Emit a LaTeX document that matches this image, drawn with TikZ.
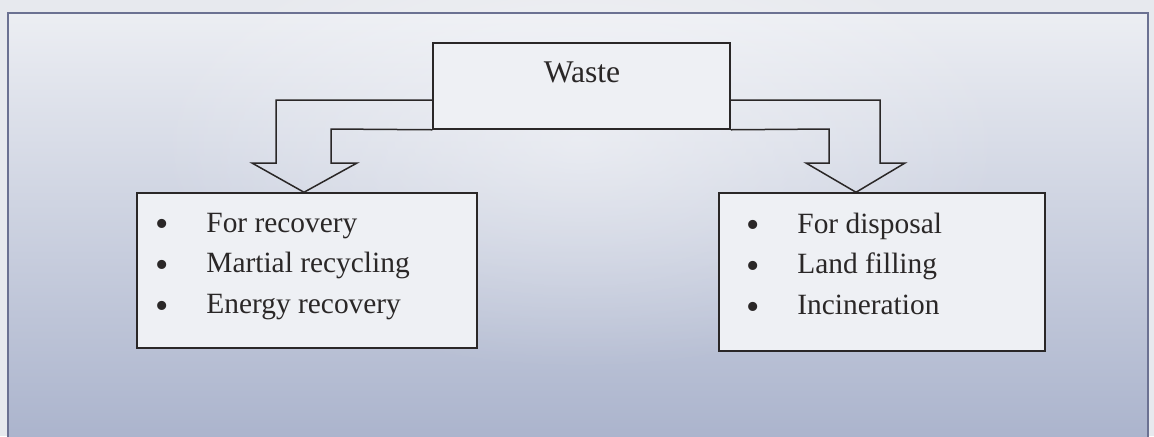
\documentclass[tikz,border=0pt]{standalone}
\usepackage{fontspec}
\setmainfont{Liberation Serif}
\usetikzlibrary{calc,fadings}

\definecolor{paper}{HTML}{E7E9EE}
\definecolor{shadetop}{HTML}{ECEEF3}
\definecolor{shademid}{HTML}{CDD3E2}
\definecolor{shadebot}{HTML}{AAB3CC}
\definecolor{frameline}{HTML}{6B7192}
\definecolor{ink}{HTML}{2A2727}
\definecolor{boxfill}{HTML}{EEF0F4}

\tikzfading[name=softglow, inner color=transparent!0, outer color=transparent!100]

\begin{document}
\begin{tikzpicture}[x=0.5pt,y=-0.5pt,
  box/.style={draw=ink,line width=0.75pt,fill=boxfill,inner sep=0pt},
  blockarrow/.style={draw=ink,line width=0.75pt,line join=miter},
  item/.style={anchor=base west,inner sep=0pt,text=ink,font=\fontsize{14.7}{18}\selectfont},
  bullet/.style={anchor=base,inner sep=0pt,text=ink,font=\fontsize{19}{20}\selectfont},
  title/.style={anchor=base,inner sep=0pt,text=ink,font=\fontsize{15.8}{19}\selectfont}]

\useasboundingbox (0,0) rectangle (1154,436);

% paper and shaded panel
\fill[paper] (0,0) rectangle (1154,436);
\shade[top color=shadetop, middle color=shademid, bottom color=shadebot] (8,13) rectangle (1148,445);
\fill[white, opacity=0.45, path fading=softglow] (580,140) ellipse (430 and 230);
\draw[frameline, line width=0.8pt] (8,13) rectangle (1148,445);

% source box
\node[box, minimum width=148.5pt, minimum height=43pt] (waste) at (581.5,86) {};
\node[title] (wastelabel) at (582,82) {Waste};

% target boxes
\node[box, minimum width=170pt, minimum height=77.5pt] (rec) at (307,270.5) {};
\node[box, minimum width=163pt, minimum height=79pt] (dis) at (882,272) {};

% arrow tips resting on the target boxes
\coordinate (ltip) at ($(rec.north)+(-3,0)$);
\coordinate (rtip) at ($(dis.north)+(-26,0)$);

% bent block arrows
\draw[blockarrow] (waste.west |- 0,100) -- (276,100) -- (276,163) -- (252,163)
  -- (ltip) -- (357,163) -- (331,163) -- (331,129) -- (waste.south west);
\draw[blockarrow] (waste.east |- 0,100) -- (880,100) -- (880,163) -- (905,163)
  -- (rtip) -- (806,163) -- (829,163) -- (829,129) -- (waste.south east);

% recovery list
\node[bullet] (rb1) at (162,236) {•};
\node[item]   (ri1) at (206,232) {For recovery};
\node[bullet] (rb2) at (162,277) {•};
\node[item]   (ri2) at (206,272.5) {Martial recycling};
\node[bullet] (rb3) at (162,318) {•};
\node[item]   (ri3) at (206,313) {Energy recovery};

% disposal list
\node[bullet] (db1) at (753,237) {•};
\node[item]   (di1) at (797,233) {For disposal};
\node[bullet] (db2) at (753,278) {•};
\node[item]   (di2) at (797,273.5) {Land filling};
\node[bullet] (db3) at (753,319) {•};
\node[item]   (di3) at (797,314) {Incineration};

\end{tikzpicture}
\end{document}
